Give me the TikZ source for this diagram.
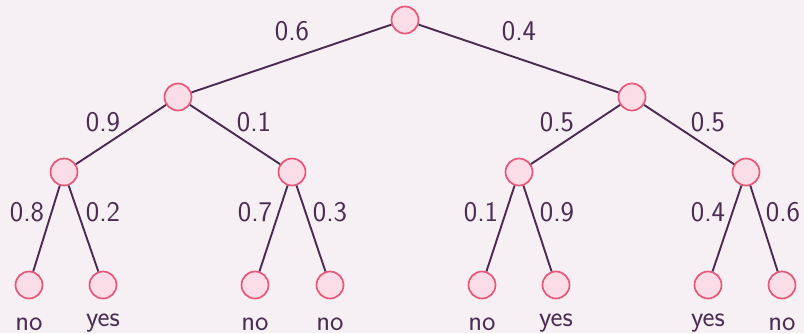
\documentclass[tikz,border=0pt]{standalone}
\definecolor{bg}{HTML}{F6F0F4}
\definecolor{nodefill}{HTML}{FADDE6}
\definecolor{nodedraw}{HTML}{E6577A}
\definecolor{edgecol}{HTML}{4A2A4F}
\definecolor{txtcol}{HTML}{4A2D4F}
\begin{document}
\begin{tikzpicture}[x=1pt,y=-1pt,
  tnode/.style={circle,draw=nodedraw,fill=nodefill,line width=1.7pt,minimum size=27pt,inner sep=0pt},
  edge/.style={draw=edgecol,line width=1.9pt},
  lab/.style={text=txtcol,font=\sffamily\fontsize{28.5}{30}\selectfont,anchor=base,inner sep=0pt}]
\fill[bg] (0,0) rectangle (804,333);
\useasboundingbox (0,0) rectangle (804,333);
\node[tnode] (r) at (405,20) {};
\node[tnode] (a) at (178,97) {};
\node[tnode] (b) at (632,97) {};
\node[tnode] (aa) at (64,172) {};
\node[tnode] (ab) at (292,172) {};
\node[tnode] (ba) at (519,172) {};
\node[tnode] (bb) at (746,172) {};
\node[tnode] (l1) at (29,285) {};
\node[tnode] (l2) at (103,285) {};
\node[tnode] (l3) at (255,285) {};
\node[tnode] (l4) at (330,285) {};
\node[tnode] (l5) at (482,285) {};
\node[tnode] (l6) at (556,285) {};
\node[tnode] (l7) at (708,285) {};
\node[tnode] (l8) at (782,285) {};
\foreach \p/\c in {r/a,r/b,a/aa,a/ab,b/ba,b/bb,aa/l1,aa/l2,ab/l3,ab/l4,ba/l5,ba/l6,bb/l7,bb/l8}
  \draw[edge] (\p) -- (\c);
\node[lab] (p1) at (292,40) {0.6};
\node[lab] (p2) at (519,40) {0.4};
\node[lab] (p3) at (103,131) {0.9};
\node[lab] (p4) at (254,131) {0.1};
\node[lab] (p5) at (557,131) {0.5};
\node[lab] (p6) at (708,131) {0.5};
\node[lab] (p7) at (27,221) {0.8};
\node[lab] (p8) at (103,221) {0.2};
\node[lab] (p9) at (255,221) {0.7};
\node[lab] (p10) at (330,221) {0.3};
\node[lab] (p11) at (481,221) {0.1};
\node[lab] (p12) at (557,221) {0.9};
\node[lab] (p13) at (708,221) {0.4};
\node[lab] (p14) at (783,221) {0.6};
\node[lab] (t1) at (29,330) {no};
\node[lab] (t2) at (103,326) {yes};
\node[lab] (t3) at (255,330) {no};
\node[lab] (t4) at (330,330) {no};
\node[lab] (t5) at (482,330) {no};
\node[lab] (t6) at (556,326) {yes};
\node[lab] (t7) at (708,326) {yes};
\node[lab] (t8) at (782,330) {no};
\end{tikzpicture}
\end{document}
